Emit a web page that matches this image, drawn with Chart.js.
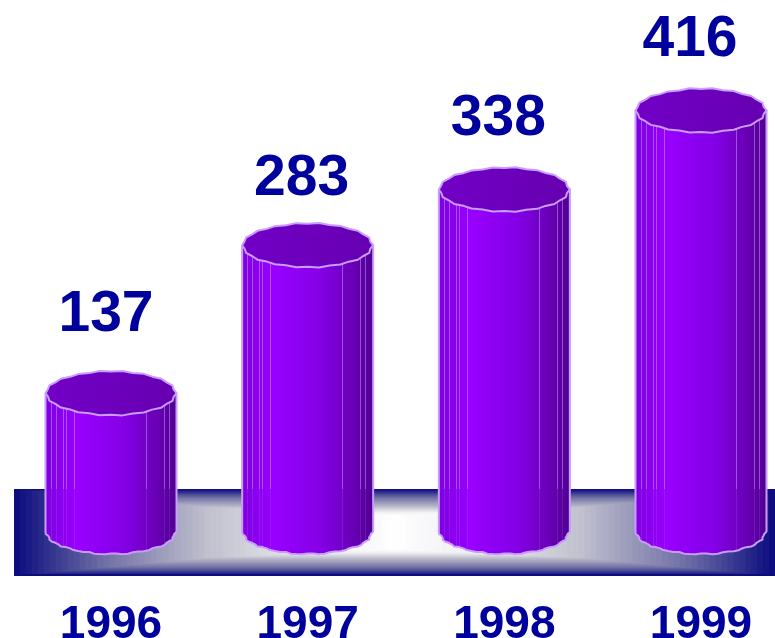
<!DOCTYPE html>
<html><head><meta charset="utf-8">
<style>html,body{margin:0;padding:0;background:#fff;overflow:hidden}canvas{display:block}</style>
<script src="https://cdn.jsdelivr.net/npm/chart.js@4"></script>
</head><body><canvas id="c" width="775" height="638"></canvas>
<script>
const categories = ['1996','1997','1998','1999'];
const seriesValues = [137,283,338,416];

const labelDx = [-5,-6,-6,-11];
const labelDy = [80,68,72,72];
const sideLines = [5,10,17,20,28,100,118,123];
const rim = [1,.97,1.02,.98,1.025,.975,1.015,.98,1.025,.98,1.02,.97];
const TEXT = '#00009c', LILAC = '#c99cff', FONT = '"Liberation Sans"';
const W = 131, RY = 22;

function bodyGrad(ctx, x) {
  const g = ctx.createLinearGradient(x-W/2,0,x+W/2,0);
  g.addColorStop(0,'#7e00e0'); g.addColorStop(.24,'#9800ff');
  g.addColorStop(.6,'#8400e6'); g.addColorStop(.85,'#6800b4'); g.addColorStop(1,'#500092');
  return g;
}
function rimPoints(x,y,from,to) {
  const pts = [], n = 36;
  for (let i=0;i<=n;i++) {
    const a = from + (to-from)*i/n;
    const idx = Math.round(((a%(2*Math.PI))+2*Math.PI)/(2*Math.PI)*n) % rim.length;
    let k = rim[idx];
    if (i===0||i===n) k = 1;
    pts.push([x+Math.cos(a)*W/2*Math.min(k,1), y+Math.sin(a)*RY*k]);
  }
  return pts;
}
function trace(ctx,pts){ctx.beginPath();pts.forEach((p,i)=>i?ctx.lineTo(p[0],p[1]):ctx.moveTo(p[0],p[1]));}

const floorPlugin = {
  id:'floor',
  beforeDatasetsDraw(chart){
    const {ctx} = chart, base = chart.scales.y.getPixelForValue(0);
    const L=14,R=775,T=base-43,B=base+44;
    const stops=[[0,[13,13,128]],[.23,[112,112,165]],[.5,[192,192,206]],[.8,[240,240,244]],[1,[255,255,255]]];
    const col=t=>{for(let i=1;i<stops.length;i++){if(t<=stops[i][0]){const a=stops[i-1],b=stops[i],u=(t-a[0])/(b[0]-a[0]);
      return 'rgb('+a[1].map((v,j)=>Math.round(v+(b[1][j]-v)*u)).join(',')+')';}}return '#fff';};
    ctx.save();
    const steps=64,hw=(R-L)/2;
    for(let i=0;i<steps;i++){
      const t=i/steps;
      const ix=hw*t, iy=t<.5?36*t:18+(t-.5)*18;
      ctx.fillStyle=col(t);
      ctx.fillRect(L+ix,T+iy,R-L-2*ix,B-T-2*iy);
    }
    ctx.fillStyle='#0c0c80';ctx.fillRect(L,B-2,R-L,2);
    ctx.restore();
  },
  afterDatasetsDraw(chart){
    const {ctx} = chart, meta = chart.getDatasetMeta(0), floorTop = chart.scales.y.getPixelForValue(0)-43;
    ctx.save();
    meta.data.forEach((bar,i)=>{
      const x=bar.x,top=bar.y,base=bar.base,l=x-W/2;
      const lower=rimPoints(x,base,0,Math.PI);
      trace(ctx,lower);ctx.closePath();ctx.fillStyle=bodyGrad(ctx,x);ctx.fill();
      ctx.lineWidth=1;
      sideLines.forEach(o=>{
        const px=Math.round(l+o)+.5, dx=(px-x)/(W/2), end=base+RY*Math.sqrt(Math.max(0,1-dx*dx));
        ctx.strokeStyle='rgba(205,160,255,.5)';
        ctx.beginPath();ctx.moveTo(px,top);ctx.lineTo(px,floorTop);ctx.stroke();
        ctx.strokeStyle='rgba(205,160,255,.14)';
        ctx.beginPath();ctx.moveTo(px,floorTop);ctx.lineTo(px,end);ctx.stroke();
      });
      ctx.strokeStyle=LILAC;ctx.lineWidth=2;ctx.lineJoin='round';
      trace(ctx,lower);ctx.stroke();
      ctx.beginPath();ctx.moveTo(l,top);ctx.lineTo(l,base);ctx.moveTo(l+W,top);ctx.lineTo(l+W,base);ctx.stroke();
      const upper=rimPoints(x,top,0,2*Math.PI);
      trace(ctx,upper);ctx.closePath();
      const g=ctx.createLinearGradient(l,0,l+W,0);
      g.addColorStop(0,'#7200c6');g.addColorStop(.5,'#6c00bc');g.addColorStop(1,'#6600b0');
      ctx.fillStyle=g;ctx.fill();ctx.stroke();
      ctx.fillStyle=TEXT;ctx.font='bold 57px '+FONT;ctx.textAlign='center';ctx.textBaseline='middle';
      ctx.fillText(String(seriesValues[i]),x+labelDx[i],top-labelDy[i]+2);
    });
    ctx.restore();
  }
};

new Chart(document.getElementById('c').getContext('2d'),{
  type:'bar',
  data:{labels:categories,datasets:[{
    data:seriesValues,
    barThickness:W,
    borderWidth:0,
    clip:false,
    backgroundColor:c=>{
      const xs=c.chart.scales.x, px=xs?xs.getPixelForValue(c.dataIndex):NaN;
      return Number.isFinite(px)?bodyGrad(c.chart.ctx,px):'#8000e0';
    }
  }]},
  options:{
    responsive:false,animation:false,
    layout:{padding:{left:111,right:74,top:0,bottom:0}},
    plugins:{legend:{display:false},tooltip:{enabled:false},title:{display:false}},
    scales:{
      x:{offset:false,grid:{display:false,drawTicks:false},border:{display:false},
        afterFit(s){s.height=106;s.paddingLeft=0;s.paddingRight=0;},
        ticks:{color:TEXT,font:{family:FONT,size:46,weight:'bold'},padding:66,autoSkip:false,maxRotation:0,minRotation:0}},
      y:{display:false,min:0,max:525}
    }
  },
  plugins:[floorPlugin]
});
</script></body></html>
